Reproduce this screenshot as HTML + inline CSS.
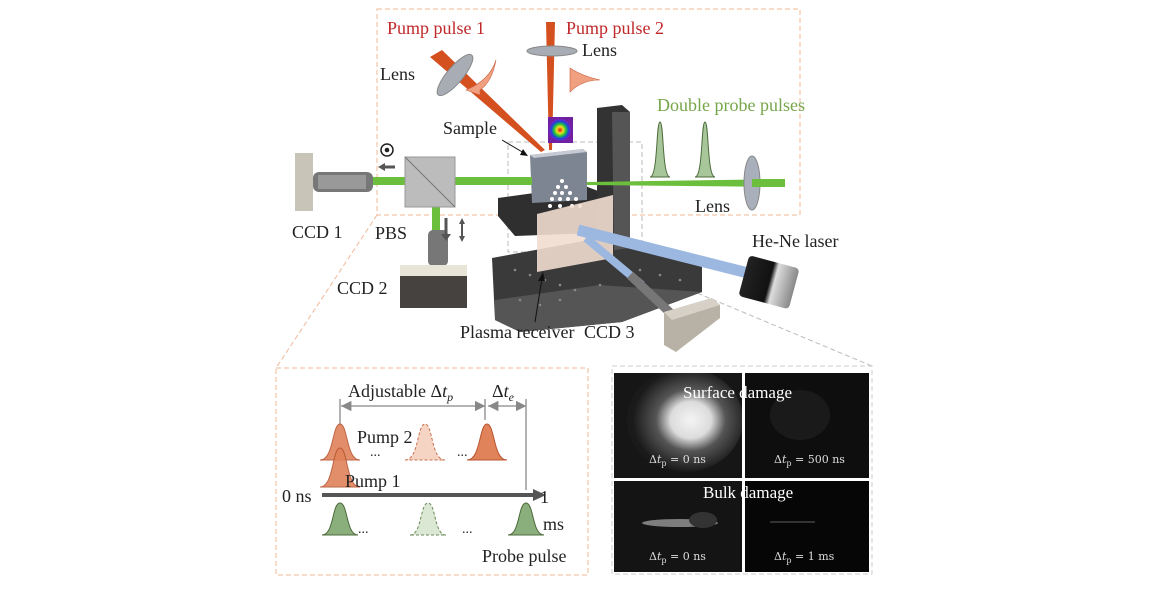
<!DOCTYPE html>
<html><head><meta charset="utf-8"><style>
html,body{margin:0;padding:0;background:#fff;}
svg{display:block;font-family:"Liberation Serif",serif;}
</style></head><body>
<svg width="1168" height="598" viewBox="0 0 1168 598" xmlns="http://www.w3.org/2000/svg">
<defs>
<radialGradient id="prof" cx="0.5" cy="0.5" r="0.5">
<stop offset="0" stop-color="#e01010"/><stop offset="0.3" stop-color="#f0e020"/><stop offset="0.55" stop-color="#20c040"/><stop offset="0.8" stop-color="#2040e0"/><stop offset="1" stop-color="#8020c0"/></radialGradient>
<radialGradient id="spot" cx="0.55" cy="0.5" r="0.5"><stop offset="0" stop-color="#f4f4f4"/><stop offset="0.35" stop-color="#dcdcdc"/><stop offset="0.6" stop-color="#555"/><stop offset="1" stop-color="#1a1a1a"/></radialGradient>
<linearGradient id="hene" x1="0" x2="1"><stop offset="0" stop-color="#222"/><stop offset="0.5" stop-color="#111"/><stop offset="0.6" stop-color="#ddd"/><stop offset="1" stop-color="#888"/></linearGradient>
<clipPath id="c1"><rect x="614" y="373" width="128" height="105"/></clipPath>
<marker id="ah" markerWidth="8" markerHeight="8" refX="7" refY="4" orient="auto"><path d="M0,0 L8,4 L0,8z" fill="#888"/></marker>
<marker id="ahs" markerWidth="8" markerHeight="8" refX="0" refY="4" orient="auto"><path d="M8,0 L0,4 L8,8z" fill="#888"/></marker>
</defs>
<rect x="377" y="9" width="423" height="206" fill="none" stroke="#f0b896" stroke-dasharray="5,3"/>
<rect x="508" y="142" width="134" height="110" fill="none" stroke="#bbb" stroke-dasharray="5,3"/>
<line x1="377" y1="215" x2="276" y2="368" stroke="#f0b896" stroke-dasharray="5,3"/>
<line x1="690" y1="290" x2="872" y2="366" stroke="#bbb" stroke-dasharray="5,3"/>
<rect x="276" y="368" width="312" height="207" fill="none" stroke="#f0b896" stroke-dasharray="5,3"/>
<rect x="612" y="366" width="260" height="208" fill="none" stroke="#ccc" stroke-dasharray="5,3"/>

<polygon points="492,258 600,238 702,262 702,292 622,322 520,332 495,320" fill="#3a3a3a"/>
<polygon points="495,300 600,285 702,292 622,322 520,332 495,320" fill="#555"/>
<polygon points="498,198 585,186 622,200 622,232 515,236 498,216" fill="#2f2f2f"/>
<polygon points="597,108 622,105 630,112 630,248 605,250 597,245" fill="#333"/>
<polygon points="612,112 630,112 630,248 614,250" fill="#555"/>
<g fill="#888">
<circle cx="515" cy="270" r="1.3"/><circle cx="530" cy="275" r="1.3"/><circle cx="545" cy="280" r="1.3"/><circle cx="560" cy="285" r="1.3"/><circle cx="575" cy="290" r="1.3"/><circle cx="600" cy="285" r="1.3"/><circle cx="520" cy="300" r="1.3"/><circle cx="540" cy="305" r="1.3"/><circle cx="560" cy="300" r="1.3"/><circle cx="640" cy="270" r="1.3"/><circle cx="660" cy="275" r="1.3"/><circle cx="680" cy="280" r="1.3"/>
</g>
<polygon points="530,155 583,149 587,152 587,200 532,203" fill="#7d8593"/>
<polygon points="530,155 583,149 587,152 534,158" fill="#c6cad2"/>
<g fill="#fff"><circle cx="562" cy="181" r="2"/><circle cx="558" cy="187" r="2"/><circle cx="566" cy="187" r="2"/><circle cx="555" cy="193" r="2"/><circle cx="562" cy="193" r="2"/><circle cx="570" cy="193" r="2"/><circle cx="552" cy="199" r="2"/><circle cx="560" cy="199" r="2"/><circle cx="568" cy="199" r="2"/><circle cx="576" cy="199" r="2"/><circle cx="550" cy="206" r="2"/><circle cx="560" cy="206" r="2"/><circle cx="572" cy="206" r="2"/><circle cx="580" cy="206" r="2"/></g>
<polygon points="537,214 613,195 613,258 537,272" fill="#f2ddd0" opacity="0.9"/>
<line x1="578" y1="230" x2="748" y2="273" stroke="#9db8e0" stroke-width="11"/>
<line x1="586" y1="238" x2="642" y2="285" stroke="#9db8e0" stroke-width="8"/>
<line x1="630" y1="275" x2="680" y2="322" stroke="#777" stroke-width="9"/>
<polygon points="664,312 712,298 720,305 720,318 676,352 664,345" fill="#b8b2a6"/>
<polygon points="664,312 712,298 720,305 672,320" fill="#d6d0c6"/>
<g transform="rotate(15 768 282)"><rect x="743" y="261" width="52" height="42" rx="4" fill="url(#hene)"/></g>
<rect x="372" y="177" width="160" height="8" fill="#6cbf3c"/>
<polygon points="587,182 785,179 785,187 587,185" fill="#6cbf3c"/>
<rect x="432" y="207" width="8" height="25" fill="#6cbf3c"/>
<ellipse cx="752" cy="183" rx="8" ry="27" fill="#a9afbb" stroke="#888"/>
<rect x="752" y="179" width="33" height="8" fill="#6cbf3c"/>
<rect x="405" y="157" width="50" height="50" fill="#bcbcbc" stroke="#999"/>
<line x1="405" y1="157" x2="455" y2="207" stroke="#777"/>
<rect x="295" y="153" width="18" height="58" fill="#c9c4b8"/>
<rect x="313" y="172" width="60" height="20" rx="6" fill="#777"/>
<rect x="318" y="175" width="48" height="14" fill="#999"/>
<rect x="428" y="230" width="20" height="36" rx="5" fill="#777"/>
<rect x="400" y="265" width="67" height="43" fill="#454240"/>
<rect x="400" y="265" width="67" height="11" fill="#e9e4d8"/>
<circle cx="387" cy="150" r="6" fill="none" stroke="#222" stroke-width="1.5"/><circle cx="387" cy="150" r="2.3" fill="#222"/>
<path d="M395,167 L383,167" stroke="#555" stroke-width="3"/><path d="M378,167 L385,163 L385,171z" fill="#555"/>
<path d="M446,218 L446,236" stroke="#555" stroke-width="3"/><path d="M441,234 L451,234 L446,241z" fill="#555"/>
<path d="M462,222 L462,238" stroke="#555" stroke-width="2"/><path d="M459,224 L462,218 L465,224z M459,236 L462,242 L465,236z" fill="#555"/>
<polygon points="430,57 442,50 545,150 541,152" fill="#d4501e"/>
<ellipse cx="455" cy="75" rx="8" ry="26" transform="rotate(40 455 75)" fill="#a8acb5" stroke="#888"/>
<polygon points="546,22 555,22 552,150 549,150" fill="#d4501e"/>
<ellipse cx="552" cy="51" rx="25" ry="5" fill="#a8acb5" stroke="#888"/>
<path d="M466,90 Q490,80 496,60 Q492,82 480,90 L480,95z" fill="#f0a080" stroke="#c96040" stroke-width="0.6"/>
<path d="M570,68 L570,92 Q582,80 600,80 Q582,76 570,68z" fill="#f0a080" stroke="#c96040" stroke-width="0.6"/>
<rect x="548" y="117" width="25" height="26" fill="#7020a0"/><circle cx="560" cy="130" r="11" fill="url(#prof)"/>
<line x1="502" y1="140" x2="524" y2="153" stroke="#111"/><path d="M528,156 L520,155 L523,149z" fill="#111"/>
<line x1="542" y1="278" x2="535" y2="322" stroke="#111"/><path d="M543,272 L538,281 L545,281z" fill="#111"/>
<path d="M650,177 C658,177 656,122 660,122 C664,122 662,177 670,177z" fill="#a7c79a" stroke="#4d6b3c"/>
<path d="M695,177 C703,177 701,122 705,122 C709,122 707,177 715,177z" fill="#a7c79a" stroke="#4d6b3c"/>
<g font-size="18">
<text x="387" y="34" fill="#c0282a">Pump pulse 1</text>
<text x="566" y="34" fill="#c0282a">Pump pulse 2</text>
<text x="380" y="80" fill="#222">Lens</text>
<text x="582" y="56" fill="#222">Lens</text>
<text x="657" y="111" fill="#76a64a">Double probe pulses</text>
<text x="443" y="134" fill="#222">Sample</text>
<text x="695" y="212" fill="#222">Lens</text>
<text x="292" y="238" fill="#222">CCD 1</text>
<text x="375" y="239" fill="#222">PBS</text>
<text x="337" y="294" fill="#222">CCD 2</text>
<text x="752" y="247" fill="#222">He-Ne laser</text>
<text x="460" y="338" fill="#222">Plasma receiver</text>
<text x="584" y="338" fill="#222">CCD 3</text>
</g>
<g stroke="#888" stroke-width="1.3" fill="none">
<line x1="341" y1="406" x2="484" y2="406" marker-start="url(#ahs)" marker-end="url(#ah)"/>
<line x1="488" y1="406" x2="525" y2="406" marker-start="url(#ahs)" marker-end="url(#ah)"/>
<line x1="340" y1="399" x2="340" y2="425"/><line x1="485" y1="399" x2="485" y2="420"/><line x1="526" y1="399" x2="526" y2="490"/>
</g>
<line x1="322" y1="495" x2="535" y2="495" stroke="#555" stroke-width="4"/><path d="M533,489 L546,495 L533,501z" fill="#555"/>
<g stroke-width="1">
<path d="M320,460 C334,460 332,424 340,424 C348,424 346,460 360,460z" fill="#e0825a" stroke="#b85530" opacity="0.9"/>
<path d="M320,487 C334,487 332,448 340,448 C348,448 346,487 360,487z" fill="#e0825a" stroke="#b85530" opacity="0.9"/>
<path d="M405,460 C419,460 417,424 425,424 C433,424 431,460 445,460z" fill="#f6d4c4" stroke="#c87050" stroke-dasharray="3,2"/>
<path d="M467,460 C481,460 479,424 487,424 C495,424 493,460 507,460z" fill="#e0825a" stroke="#b85530"/>
<path d="M322,535 C334,535 332,503 340,503 C348,503 346,535 358,535z" fill="#8aae7c" stroke="#4d6b3c"/>
<path d="M410,535 C422,535 420,503 428,503 C436,503 434,535 446,535z" fill="#dbe8d4" stroke="#6a8a5a" stroke-dasharray="3,2"/>
<path d="M508,535 C520,535 518,503 526,503 C534,503 532,535 544,535z" fill="#8aae7c" stroke="#4d6b3c"/>
</g>
<g font-size="18" fill="#222">
<text x="348" y="397">Adjustable Δ<tspan font-style="italic">t</tspan><tspan font-size="12" dy="4" font-style="italic">p</tspan></text>
<text x="492" y="397">Δ<tspan font-style="italic">t</tspan><tspan font-size="12" dy="4" font-style="italic">e</tspan></text>
<text x="357" y="443">Pump 2</text>
<text x="345" y="487">Pump 1</text>
<text x="282" y="502">0 ns</text>
<text x="540" y="503">1</text>
<text x="543" y="530">ms</text>
<text x="482" y="562">Probe pulse</text>
<text x="370" y="456" font-size="14">...</text><text x="457" y="456" font-size="14">...</text>
<text x="358" y="533" font-size="14">...</text><text x="462" y="533" font-size="14">...</text>
</g>
<rect x="614" y="373" width="128" height="105" fill="#161616"/>
<ellipse cx="685" cy="420" rx="58" ry="52" fill="url(#spot)" clip-path="url(#c1)"/>
<rect x="745" y="373" width="124" height="105" fill="#0e0e0e"/>
<ellipse cx="800" cy="415" rx="30" ry="25" fill="#1a1a1a"/>
<rect x="614" y="481" width="128" height="91" fill="#141414"/>
<ellipse cx="680" cy="523" rx="38" ry="4" fill="#aaa" opacity="0.7"/>
<ellipse cx="703" cy="520" rx="14" ry="8" fill="#333"/>
<rect x="745" y="481" width="124" height="91" fill="#060606"/>
<line x1="770" y1="522" x2="815" y2="522" stroke="#333" stroke-width="2"/>
<g fill="#fff" font-size="17">
<text x="683" y="398">Surface damage</text>
<text x="703" y="498">Bulk damage</text>
</g>
<g fill="#ddd" font-size="11" font-family="DejaVu Serif,serif">
<text x="649" y="463">Δ<tspan font-style="italic">t</tspan><tspan font-size="8" dy="3">p</tspan><tspan dy="-3"> = 0 ns</tspan></text>
<text x="774" y="463">Δ<tspan font-style="italic">t</tspan><tspan font-size="8" dy="3">p</tspan><tspan dy="-3"> = 500 ns</tspan></text>
<text x="649" y="560">Δ<tspan font-style="italic">t</tspan><tspan font-size="8" dy="3">p</tspan><tspan dy="-3"> = 0 ns</tspan></text>
<text x="774" y="560">Δ<tspan font-style="italic">t</tspan><tspan font-size="8" dy="3">p</tspan><tspan dy="-3"> = 1 ms</tspan></text>
</g>
</svg>
</body></html>
